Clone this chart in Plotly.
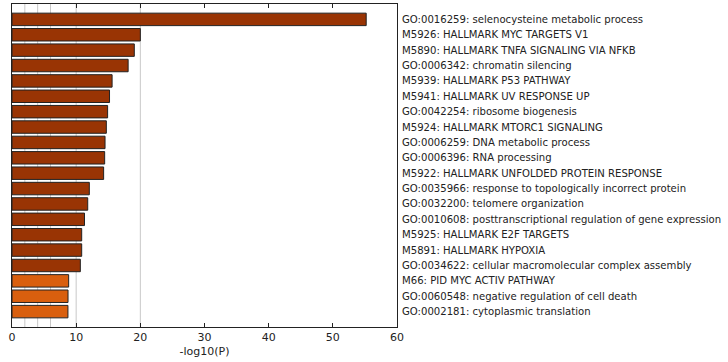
import plotly.graph_objects as go

# Enriched terms, top to bottom
terms = [
    "GO:0016259: selenocysteine metabolic process",
    "M5926: HALLMARK MYC TARGETS V1",
    "M5890: HALLMARK TNFA SIGNALING VIA NFKB",
    "GO:0006342: chromatin silencing",
    "M5939: HALLMARK P53 PATHWAY",
    "M5941: HALLMARK UV RESPONSE UP",
    "GO:0042254: ribosome biogenesis",
    "M5924: HALLMARK MTORC1 SIGNALING",
    "GO:0006259: DNA metabolic process",
    "GO:0006396: RNA processing",
    "M5922: HALLMARK UNFOLDED PROTEIN RESPONSE",
    "GO:0035966: response to topologically incorrect protein",
    "GO:0032200: telomere organization",
    "GO:0010608: posttranscriptional regulation of gene expression",
    "M5925: HALLMARK E2F TARGETS",
    "M5891: HALLMARK HYPOXIA",
    "GO:0034622: cellular macromolecular complex assembly",
    "M66: PID MYC ACTIV PATHWAY",
    "GO:0060548: negative regulation of cell death",
    "GO:0002181: cytoplasmic translation",
]
neg_log_p = [55.2, 20.0, 19.06, 18.1, 15.6, 15.2, 14.9, 14.7, 14.5, 14.44,
             14.28, 12.05, 11.8, 11.3, 10.86, 10.86, 10.65, 8.83, 8.73, 8.72]
# significance tier of each term: 0 = strongest, 1 = weaker
tier = [0] * 17 + [1] * 3

x_ticks = [0, 10, 20, 30, 40, 50, 60]
grid_lines = [2, 4, 6, 10, 20]

tier_colors = ["#993404", "#d95f0e"]
bar_colors = [tier_colors[t] for t in tier]

fig = go.Figure(go.Bar(
    x=neg_log_p,
    y=terms,
    orientation="h",
    marker=dict(color=bar_colors, line=dict(color="#222222", width=1)),
))

for g in grid_lines:
    fig.add_shape(type="line", xref="x", yref="paper", x0=g, x1=g, y0=0, y1=1,
                  line=dict(color="#c8c8c8", width=1), layer="below")

fig.update_layout(
    width=728, height=362,
    margin=dict(l=12, r=331, t=4, b=35),
    paper_bgcolor="white", plot_bgcolor="white",
    bargap=0.19,
    showlegend=False,
    font=dict(family="DejaVu Sans", size=10, color="#222222"),
)
fig.update_xaxes(
    range=[0, 60], tickvals=x_ticks, ticktext=[str(v) for v in x_ticks],
    ticks="inside", ticklen=4, tickcolor="#222222", mirror="ticks",
    showline=True, linecolor="#222222", linewidth=1,
    showgrid=False, zeroline=False, automargin=False,
    tickfont=dict(size=11),
    title=dict(text="-log10(P)", font=dict(size=11), standoff=4),
)
fig.update_yaxes(
    type="category", categoryorder="array", categoryarray=terms,
    range=[len(terms), -1], side="right",
    showline=True, linecolor="#222222", linewidth=1, mirror=True,
    ticks="", showgrid=False, zeroline=False, automargin=False,
    tickfont=dict(size=10.1), ticklabelstandoff=2,
)

fig.write_html("out.html")
